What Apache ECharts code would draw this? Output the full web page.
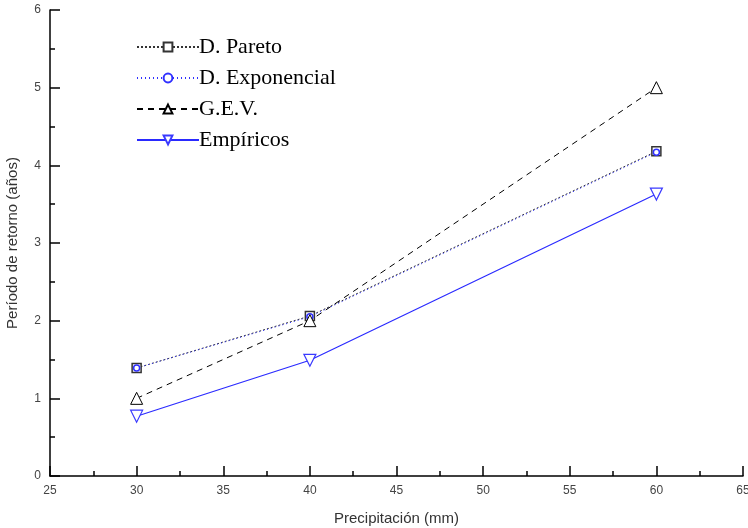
<!DOCTYPE html>
<html>
<head>
<meta charset="utf-8">
<script src="https://cdn.jsdelivr.net/npm/echarts@6/dist/echarts.min.js"></script>
<style>
  html, body { margin: 0; padding: 0; background: #fff; }
  #chart { width: 748px; height: 528px; }
</style>
</head>
<body>
<div id="chart"></div>
<script>
// precipitation (mm)
const xVals = [30, 40, 60];
// return period (años)
const pareto = [1.39, 2.06, 4.18];
const exponencial = [1.39, 2.05, 4.17];
const gev = [1.0, 2.0, 5.0];
const empiricos = [0.77, 1.49, 3.63];

const chart = echarts.init(document.getElementById('chart'));

function pts(ys) {
  return xVals.map((x, i) => [x, ys[i]]);
}

const axisCommon = {
  axisLine: { lineStyle: { color: '#000', width: 1.5 } },
  axisTick: { inside: true, length: 10, lineStyle: { color: '#000', width: 1.5 } },
  minorTick: { show: true, splitNumber: 2, length: 5, lineStyle: { color: '#000', width: 1.5 } },
  splitLine: { show: false },
  axisLabel: { color: '#444', fontFamily: 'Liberation Sans', fontSize: 12 },
  nameTextStyle: { color: '#333', fontFamily: 'Liberation Sans', fontSize: 15 }
};

var option = {
  backgroundColor: '#fff',
  animation: false,
  grid: { left: 50, right: 5, top: 10, bottom: 52, outerBoundsMode: 'none', containLabel: false },
  legend: {
    orient: 'vertical',
    left: 131,
    top: 31,
    itemWidth: 62,
    itemHeight: 11,
    itemGap: 9,
    textStyle: { fontFamily: 'Liberation Serif', fontSize: 22, color: '#000', padding: [0, 0, 0, -5] },
    data: ['D. Pareto', 'D. Exponencial', 'G.E.V.', 'Empíricos']
  },
  xAxis: Object.assign({}, axisCommon, {
    type: 'value',
    min: 25, max: 65, interval: 5,
    name: 'Precipitación (mm)',
    nameLocation: 'middle',
    nameGap: 35,
    axisLabel: Object.assign({}, axisCommon.axisLabel, { margin: 9 })
  }),
  yAxis: Object.assign({}, axisCommon, {
    type: 'value',
    min: 0, max: 6, interval: 1,
    name: 'Período de retorno (años)',
    nameLocation: 'middle',
    nameGap: 30,
    axisLabel: Object.assign({}, axisCommon.axisLabel, { margin: 9 })
  }),
  series: [
    {
      name: 'D. Pareto', type: 'line', data: pts(pareto),
      symbol: 'rect', symbolSize: 9,
      itemStyle: { color: '#fff', borderColor: '#333', borderWidth: 1.5 },
      lineStyle: { color: '#333', width: 1, type: [2, 2] },
      color: '#333'
    },
    {
      name: 'D. Exponencial', type: 'line', data: pts(exponencial),
      symbol: 'circle', symbolSize: 6,
      itemStyle: { color: '#fff', borderColor: '#3030ff', borderWidth: 1.5 },
      lineStyle: { color: '#3030ff', width: 1, type: [1, 3] },
      color: '#3030ff'
    },
    {
      name: 'G.E.V.', type: 'line', data: pts(gev),
      symbol: 'triangle', symbolSize: 12,
      itemStyle: { color: '#fff', borderColor: '#000', borderWidth: 1 },
      lineStyle: { color: '#000', width: 1, type: [6, 5] },
      color: '#000'
    },
    {
      name: 'Empíricos', type: 'line', data: pts(empiricos),
      symbol: 'triangle', symbolRotate: 180, symbolSize: 12,
      itemStyle: { color: '#fff', borderColor: '#3a3aff', borderWidth: 1.2 },
      lineStyle: { color: '#2a2aff', width: 1.2, type: 'solid' },
      color: '#2a2aff'
    }
  ]
};

chart.setOption(option);
</script>
</body>
</html>
